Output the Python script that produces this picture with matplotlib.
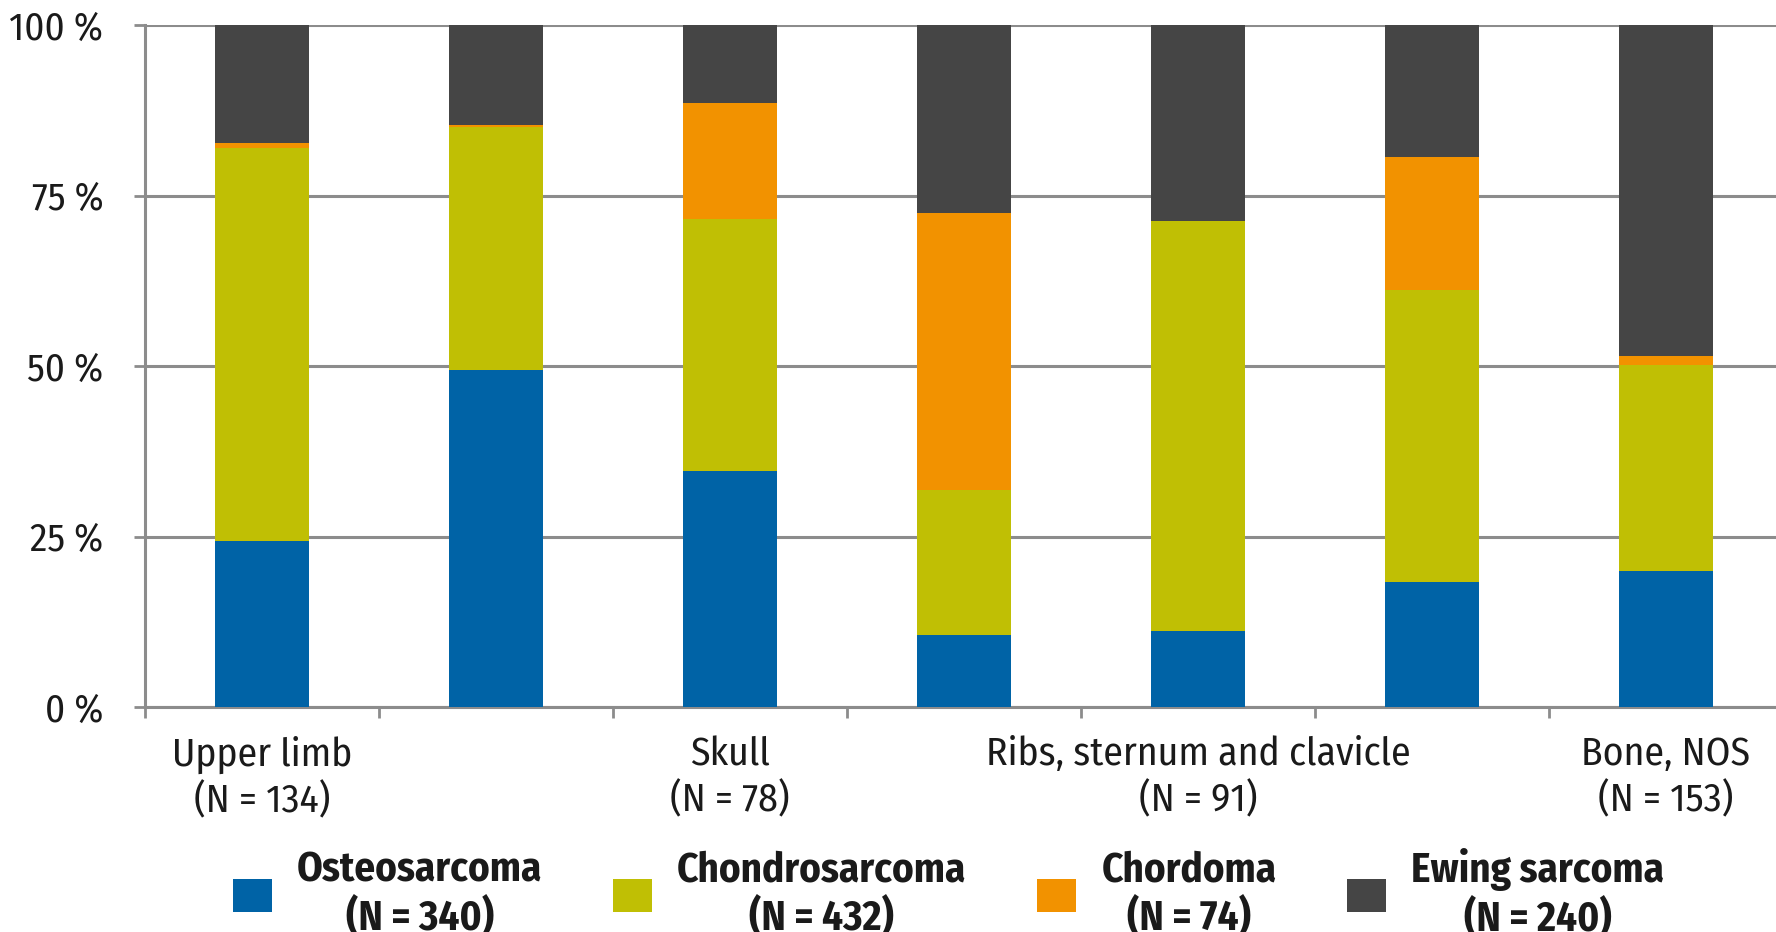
import matplotlib
matplotlib.use("Agg")
import matplotlib.pyplot as plt
from matplotlib.patches import Patch
import numpy as np

# ---- data (percent of each site) ----
tick_labels = ["Upper limb\n(N = 134)", "", "Skull\n(N = 78)", "",
               "Ribs, sternum and clavicle\n(N = 91)", "", "Bone, NOS\n(N = 153)"]
series_names = ["Osteosarcoma\n(N = 340)", "Chondrosarcoma\n(N = 432)",
                "Chordoma\n(N = 74)", "Ewing sarcoma\n(N = 240)"]
osteosarcoma = [24.3, 49.4, 34.6, 10.6, 11.1, 18.4, 20.0]
chondrosarcoma = [57.6, 35.7, 37.0, 21.2, 60.2, 42.8, 30.1]
chordoma = [0.8, 0.3, 17.0, 40.6, 0.0, 19.4, 1.3]
ewing = [17.3, 14.6, 11.4, 27.6, 28.7, 19.4, 48.6]
colors = ["#0063A6", "#C0BF04", "#F29200", "#454545"]

FAM = ["Fira Sans Condensed", "Roboto Condensed", "PT Sans Narrow",
       "IBM Plex Sans Condensed", "DejaVu Sans"]
TXT = "#1a1a1a"
GRID = "#8c8c8c"

fig = plt.figure(figsize=(17.76, 9.32), dpi=100)
ax = fig.add_axes([145/1776, 1 - 707/932, 1638/1776, 682/932])

x = np.arange(len(tick_labels))
bottom = np.zeros(len(x))
for vals, c in zip([osteosarcoma, chondrosarcoma, chordoma, ewing], colors):
    v = np.array(vals)
    ax.bar(x, v, width=0.40, bottom=bottom, color=c, zorder=3, linewidth=0)
    bottom += v

ax.set_xlim(-0.5, len(x) - 0.5)
ax.set_ylim(0, 100)
ax.set_yticks([0, 25, 50, 75, 100])
ax.set_yticklabels([f"{t} %" for t in [0, 25, 50, 75, 100]], fontsize=28, color=TXT, family=FAM)
ax.yaxis.grid(True, color=GRID, linewidth=2.2, zorder=0)
ax.tick_params(axis="y", length=8, width=2, color=GRID, pad=22)

ax.set_xticks(x)
ax.set_xticklabels(tick_labels, fontsize=28.5, color=TXT, linespacing=1.25, family=FAM)
ax.set_xticks(np.arange(-0.5, len(x) + 0.5, 1), minor=True)
ax.tick_params(axis="x", which="major", length=0, pad=21)
ax.tick_params(axis="x", which="minor", length=8, width=2, color=GRID, direction="out")

for s in ["top", "right"]:
    ax.spines[s].set_visible(False)
for s in ["left", "bottom"]:
    ax.spines[s].set_color(GRID)
    ax.spines[s].set_linewidth(2.2)

handles = [Patch(facecolor=c, edgecolor="none") for c in colors]
leg = fig.legend(handles, series_names, loc="center", bbox_to_anchor=(0.534, 0.041),
                 ncol=4, frameon=False, handlelength=0.95, handleheight=0.88,
                 handletextpad=0.62, columnspacing=1.72,
                 prop=dict(family=FAM, weight="bold", size=29.5))
for t in leg.get_texts():
    t.set_multialignment("center")
    t.set_color(TXT)
    t.set_linespacing(1.15)

fig.savefig("out.png", dpi=100)
